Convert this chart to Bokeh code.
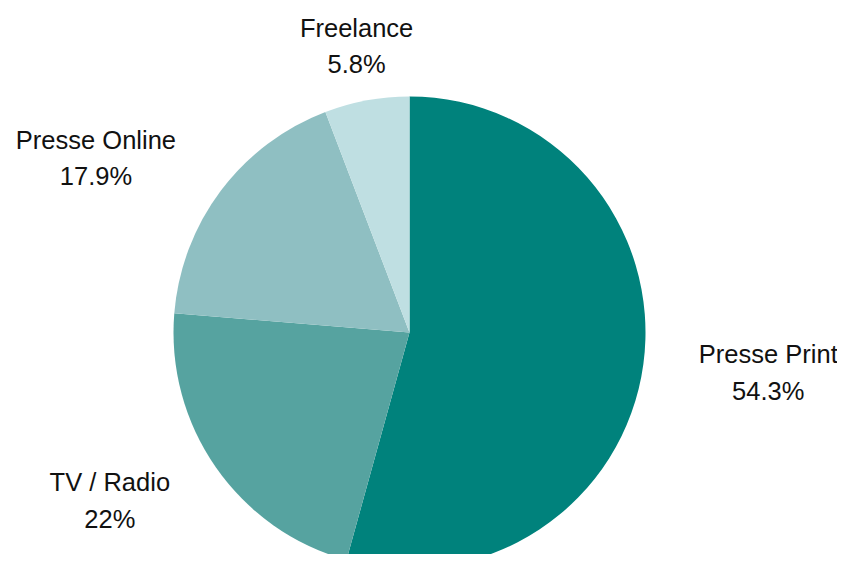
import math
from bokeh.plotting import figure
from bokeh.models import Range1d, ColumnDataSource
from bokeh.embed import file_html
from bokeh.resources import INLINE
from bokeh.core.properties import value

# ---- data ----
categories = ["Presse Print", "TV / Radio", "Presse Online", "Freelance"]
shares = [54.3, 22.0, 17.9, 5.8]
share_labels = ["54.3%", "22%", "17.9%", "5.8%"]
colors = ["#00827c", "#56a3a0", "#8fbfc2", "#bfdfe2"]

# ---- layout (screen-pixel coordinates) ----
W, H = 837, 554
CX, CY = 409, 332
R = 236
LR = 292
FS = 25.5
FONT = "Liberation Sans"

# Arial / Liberation Sans advance widths (per 1000 em)
CW = {" ": 278, "%": 889, ".": 278, "/": 278, "F": 611, "O": 778, "P": 667, "R": 722,
      "T": 611, "V": 667, "a": 556, "c": 500, "d": 556, "e": 556, "i": 222, "l": 222,
      "n": 556, "o": 556, "r": 333, "s": 500, "t": 278}
def tw(s):
    return sum(CW.get(ch, 556) for ch in s) / 1000.0 * FS

total = sum(shares)
starts, ends, lx, ly = [], [], [], []
cum = 0.0
for cat, sh, pl in zip(categories, shares, share_labels):
    a0 = math.pi / 2 - 2 * math.pi * cum / total
    cum += sh
    a1 = math.pi / 2 - 2 * math.pi * cum / total
    starts.append(a1)
    ends.append(a0)
    mid = (a0 + a1) / 2
    ax = CX + LR * math.cos(mid)
    ay = CY - LR * math.sin(mid)
    w = max(tw(cat), tw(pl))
    c = math.cos(mid)
    if c > 0.3:
        ax += w / 2
    elif c < -0.3:
        ax -= w / 2
    lx.append(ax)
    ly.append(-ay)

src = ColumnDataSource(dict(x=[CX] * len(shares), y=[-CY] * len(shares),
                            start=starts, end=ends, color=colors,
                            lx=lx, ly=ly, name=categories, pct=share_labels))

p = figure(width=W, height=H, output_backend="svg", toolbar_location=None,
           x_range=Range1d(0, W), y_range=Range1d(-H, 0),
           x_axis_type=None, y_axis_type=None, min_border=0)
p.grid.visible = False
p.outline_line_color = None
p.background_fill_color = "white"
p.border_fill_color = "white"

p.wedge(x="x", y="y", radius=R, start_angle="start", end_angle="end",
        direction="anticlock", fill_color="color", line_color=None, source=src)

p.text(x="lx", y="ly", text="name", source=src, text_align="center",
       text_baseline="alphabetic", y_offset=-17.5, text_font=value(FONT),
       text_font_size=f"{FS}px", text_color="#111111")
p.text(x="lx", y="ly", text="pct", source=src, text_align="center",
       text_baseline="alphabetic", y_offset=19, text_font=value(FONT),
       text_font_size=f"{FS}px", text_color="#111111")

open("out.html", "w").write(file_html(p, INLINE))
